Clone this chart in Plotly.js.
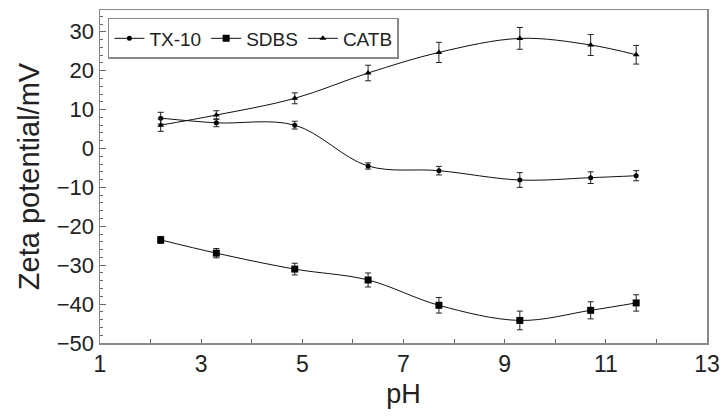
<!DOCTYPE html>
<html>
<head>
<meta charset="utf-8">
<script src="https://cdn.plot.ly/plotly-3.0.1.min.js"></script>
<style>html,body{margin:0;padding:0;background:#fff;}#chart{width:724px;height:417px;}</style>
</head>
<body>
<div id="chart"></div>
<script>
const pH = [2.2, 3.3, 4.85, 6.3, 7.7, 9.3, 10.7, 11.6];
const tx10 = [7.8, 6.6, 6.0, -4.5, -5.7, -8.1, -7.5, -7.0];
const tx10Err = [1.5, 1.0, 1.0, 0.8, 1.1, 1.9, 1.5, 1.3];
const sdbs = [-23.5, -26.9, -31.0, -33.8, -40.3, -44.2, -41.6, -39.7];
const sdbsErr = [0.9, 1.2, 1.5, 1.8, 2.0, 2.4, 2.2, 2.1];
const catb = [6.0, 8.6, 12.9, 19.4, 24.7, 28.3, 26.6, 24.1];
const catbErr = [1.6, 1.1, 1.4, 2.0, 2.6, 2.8, 2.7, 2.4];

const names = ['TX-10', 'SDBS', 'CATB'];
const series = [tx10, sdbs, catb];
const errs = [tx10Err, sdbsErr, catbErr];
const symbols = ['circle', 'square', 'triangle-up'];
const sizes = [5, 7, 6];

const traces = series.map((ys, i) => ({
  x: pH, y: ys, name: names[i], type: 'scatter', mode: 'lines+markers',
  line: {color: '#111', width: 1, shape: 'spline', smoothing: 1},
  marker: {color: '#000', symbol: symbols[i], size: sizes[i]},
  error_y: {type: 'data', array: errs[i], visible: true, color: '#222', thickness: 1, width: 3}
}));

const font = {family: 'Liberation Sans, Arial, sans-serif', color: '#222'};
const layout = {
  width: 724, height: 417,
  margin: {l: 100, r: 17, t: 10, b: 74},
  paper_bgcolor: '#fff', plot_bgcolor: '#fff',
  font: Object.assign({size: 22}, font),
  showlegend: true,
  legend: {
    orientation: 'h', x: 0.013, y: 0.976, xanchor: 'left', yanchor: 'top',
    bordercolor: '#888', borderwidth: 1.5, bgcolor: '#fff',
    font: Object.assign({size: 19}, font), itemwidth: 30, tracegroupgap: 0
  },
  xaxis: {
    range: [1, 13], tick0: 1, dtick: 2, ticks: 'inside', ticklen: 4, tickcolor: '#666',
    minor: {dtick: 1, ticks: 'inside', ticklen: 4, tickcolor: '#666'},
    showline: true, linecolor: '#888', linewidth: 1.5, mirror: true,
    showgrid: false, zeroline: false,
    tickfont: Object.assign({size: 23}, font),
    title: {text: 'pH', font: Object.assign({size: 27}, font), standoff: 8}
  },
  yaxis: {
    range: [-50, 35.6], tick0: 0, dtick: 10, ticks: 'inside', ticklen: 6, tickcolor: '#666',
    minor: {dtick: 2, ticks: 'inside', ticklen: 3, tickcolor: '#666'},
    showline: true, linecolor: '#888', linewidth: 1.5, mirror: true,
    showgrid: false, zeroline: false,
    tickfont: Object.assign({size: 22}, font),
    title: {text: 'Zeta potential/mV', font: Object.assign({size: 29}, font), standoff: 8}
  }
};

Plotly.newPlot('chart', traces, layout, {displayModeBar: false, staticPlot: true});
</script>
</body>
</html>
